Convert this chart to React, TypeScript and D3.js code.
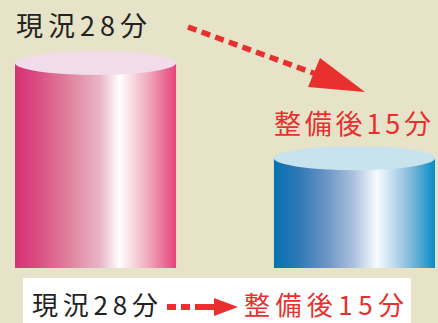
import React from "react";
import * as d3 from "d3";

const categories = ["現況", "整備後"];
const values = [28, 15];
const labels = ["現況28分", "整備後15分"];
const legendLabels = ["現況28分", "整備後15分"];

const W = 438;
const H = 323;

const sideStops = [
  [
    [0, "#d83177"],
    [0.11, "#d9467e"],
    [0.32, "#df7e9c"],
    [0.53, "#eab6c7"],
    [0.65, "#ffffff"],
    [0.84, "#f0a2b8"],
    [1, "#e5427c"],
  ],
  [
    [0, "#0771b1"],
    [0.15, "#2e78b6"],
    [0.33, "#6d96c6"],
    [0.49, "#a9bfdd"],
    [0.64, "#f8fbfe"],
    [0.83, "#8ebfdf"],
    [1, "#068dc6"],
  ],
];
const topColors = ["#f3dcea", "#c8e2ee"];

const font = "'Noto Sans CJK JP', 'Noto Sans', sans-serif";

export default function App() {
  const x = d3.scaleBand<string>().domain(categories).range([15, 435]).paddingInner(0.378).paddingOuter(0);
  const y = d3.scaleLinear().domain([0, 28]).range([268, 63]);
  const ry = 12;
  const bw = x.bandwidth();

  return (
    <svg width={W} height={H} style={{ position: "absolute", left: 0, top: 0 }}>
      <defs>
        {sideStops.map((stops, i) => (
          <linearGradient id={`side${i}`} key={i} x1="0" x2="1" y1="0" y2="0">
            {stops.map(([o, c], j) => (
              <stop key={j} offset={o as number} stopColor={c as string} />
            ))}
          </linearGradient>
        ))}
      </defs>
      <rect x={0} y={0} width={W} height={H} fill="#e6e3c9" />
      {categories.map((c, i) => {
        const x0 = x(c)!;
        const yt = y(values[i]);
        const yb = y(0);
        return (
          <g key={c}>
            <rect x={x0} y={yt} width={bw} height={yb - yt} fill={`url(#side${i})`} />
            <ellipse cx={x0 + bw / 2} cy={yt} rx={bw / 2} ry={ry} fill={topColors[i]} />
          </g>
        );
      })}
      <text x={16} y={36} fontFamily={font} fontSize={27} fill="#222" textLength={131} lengthAdjust="spacing">
        {labels[0]}
      </text>
      <text x={274} y={134} fontFamily={font} fontSize={27} fill="#e8302e" textLength={157} lengthAdjust="spacing">
        {labels[1]}
      </text>
      <line x1={188} y1={27} x2={316} y2={74} stroke="#e8302e" strokeWidth={5.5} strokeDasharray="9,5.5" />
      <polygon points="320,58 308,87 365,92" fill="#e8302e" />
      <rect x={23} y={278} width={388} height={50} fill="#ffffff" />
      <text x={32} y={315} fontFamily={font} fontSize={26} fill="#222" textLength={126} lengthAdjust="spacing">
        {legendLabels[0]}
      </text>
      <line x1={167} y1={307} x2={216} y2={307} stroke="#e8302e" strokeWidth={6} strokeDasharray="9,5" />
      <line x1={200} y1={307} x2={216} y2={307} stroke="#e8302e" strokeWidth={6} />
      <polygon points="214,298 238,307 214,316" fill="#e8302e" />
      <text x={244} y={315} fontFamily={font} fontSize={26} fill="#e8302e" textLength={160} lengthAdjust="spacing">
        {legendLabels[1]}
      </text>
    </svg>
  );
}
